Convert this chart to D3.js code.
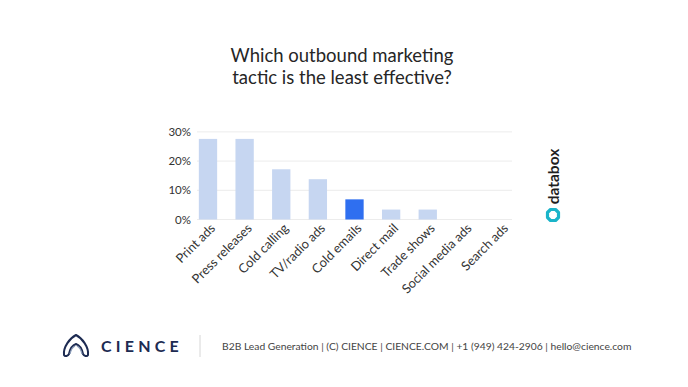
<!DOCTYPE html>
<html>
<head>
<meta charset="utf-8">
<script src="https://cdn.jsdelivr.net/npm/d3@7"></script>
<style>
  body { margin: 0; background: #fff; }
  svg { display: block; font-family: Lato, "Noto Sans", sans-serif; }
</style>
</head>
<body>
<svg width="688" height="387"></svg>
<script>
const tactics = ["Print ads", "Press releases", "Cold calling", "TV/radio ads", "Cold emails",
    "Direct mail", "Trade shows", "Social media ads", "Search ads"]
const shares = [27.6, 27.6, 17.2, 13.8, 6.9, 3.4, 3.4, 0, 0]
const highlighted = "Cold emails"
const yTicks = [0, 10, 20, 30]
const titleLines = ["Which outbound marketing", "tactic is the least effective?"]
const footerText = "B2B Lead Generation | (C) CIENCE | CIENCE.COM | +1 (949) 424-2906 | hello@cience.com"

const data = tactics.map((t, i) => ({ tactic: t, value: shares[i] }))

const svg = d3.select("svg")

// title
svg.append("text")
    .attr("text-anchor", "middle")
    .attr("font-size", 18.5)
    .attr("fill", "#262626")
    .selectAll("tspan")
    .data(titleLines)
    .join("tspan")
    .attr("x", 342)
    .attr("y", (d, i) => 62 + i * 22)
    .text(d => d)

var x = d3.scaleBand()
    .domain(tactics)
    .range([197, 512])
    .paddingInner(0.5)
    .paddingOuter(0.05)

var y = d3.scaleLinear()
    .domain([0, 30])
    .range([219.5, 131.9])

// grid
svg.append("g")
    .selectAll("line")
    .data(yTicks)
    .join("line")
    .attr("x1", 197)
    .attr("x2", 512)
    .attr("y1", d => y(d))
    .attr("y2", d => y(d))
    .attr("stroke", "#ececec")
    .attr("stroke-width", 1)

svg.append("g")
    .selectAll("text")
    .data(yTicks)
    .join("text")
    .attr("x", 191)
    .attr("y", d => y(d))
    .attr("dy", "0.35em")
    .attr("text-anchor", "end")
    .attr("font-size", 11.5)
    .attr("fill", "#333")
    .text(d => d + "%")

// bars
svg.append("g")
    .selectAll("rect")
    .data(data)
    .join("rect")
    .attr("x", d => x(d.tactic))
    .attr("width", x.bandwidth())
    .attr("y", d => y(d.value))
    .attr("height", d => y(0) - y(d.value))
    .attr("fill", d => d.tactic == highlighted ? "#2f6ff0" : "#c6d6f1")

// x labels
svg.append("g")
    .selectAll("text")
    .data(tactics)
    .join("text")
    .attr("transform", d => `translate(${x(d) + x.bandwidth() / 2 + 8},229) rotate(-45)`)
    .attr("text-anchor", "end")
    .attr("font-size", 12.8)
    .attr("fill", "#333")
    .text(d => d)

// databox logo
var dbx = svg.append("g").attr("transform", "translate(553,0)")
dbx.append("text")
    .attr("transform", "translate(5.5,176.5) rotate(-90)")
    .attr("text-anchor", "middle")
    .attr("font-size", 15.5)
    .attr("font-weight", "bold")
    .attr("fill", "#1f1f1f")
    .text("databox")
dbx.append("path")
    .attr("d", "M-2.5,-5.5 L2.5,-5.5 L5.5,-2.5 L5.5,2.5 L2.5,5.5 L-2.5,5.5 L-5.5,2.5 L-5.5,-2.5 Z")
    .attr("transform", "translate(0,215)")
    .attr("fill", "none")
    .attr("stroke", "#1ab4c9")
    .attr("stroke-width", 3.2)
    .attr("stroke-linejoin", "round")

// footer
var logo = svg.append("g").attr("transform", "translate(62,335)")
logo.append("path")
    .attr("d", "M2,20 C1,12 8,3 14,0 C20,3 27,12 26,20 C25,22 22,21 21,19 C20,14 17,10 14,9 C11,10 8,14 7,19 C6,21 3,22 2,20 Z")
    .attr("fill", "none")
    .attr("stroke", "#1d2b52")
    .attr("stroke-width", 2)
    .attr("stroke-linejoin", "round")
logo.append("path")
    .attr("d", "M8,19 C9,14 11,12 13,11 M20,19 C19,14 17,12 15,11")
    .attr("fill", "none")
    .attr("stroke", "#8a9bb8")
    .attr("stroke-width", 1.2)

svg.append("text")
    .attr("x", 101)
    .attr("y", 351.5)
    .attr("font-size", 16)
    .attr("font-weight", "bold")
    .attr("letter-spacing", 4.2)
    .attr("fill", "#1d2b52")
    .text("CIENCE")

svg.append("line")
    .attr("x1", 200).attr("x2", 200)
    .attr("y1", 335).attr("y2", 357)
    .attr("stroke", "#d6d6d6")

svg.append("text")
    .attr("x", 222)
    .attr("y", 350)
    .attr("font-size", 10.3)
    .attr("fill", "#444")
    .text(footerText)
</script>
</body>
</html>
